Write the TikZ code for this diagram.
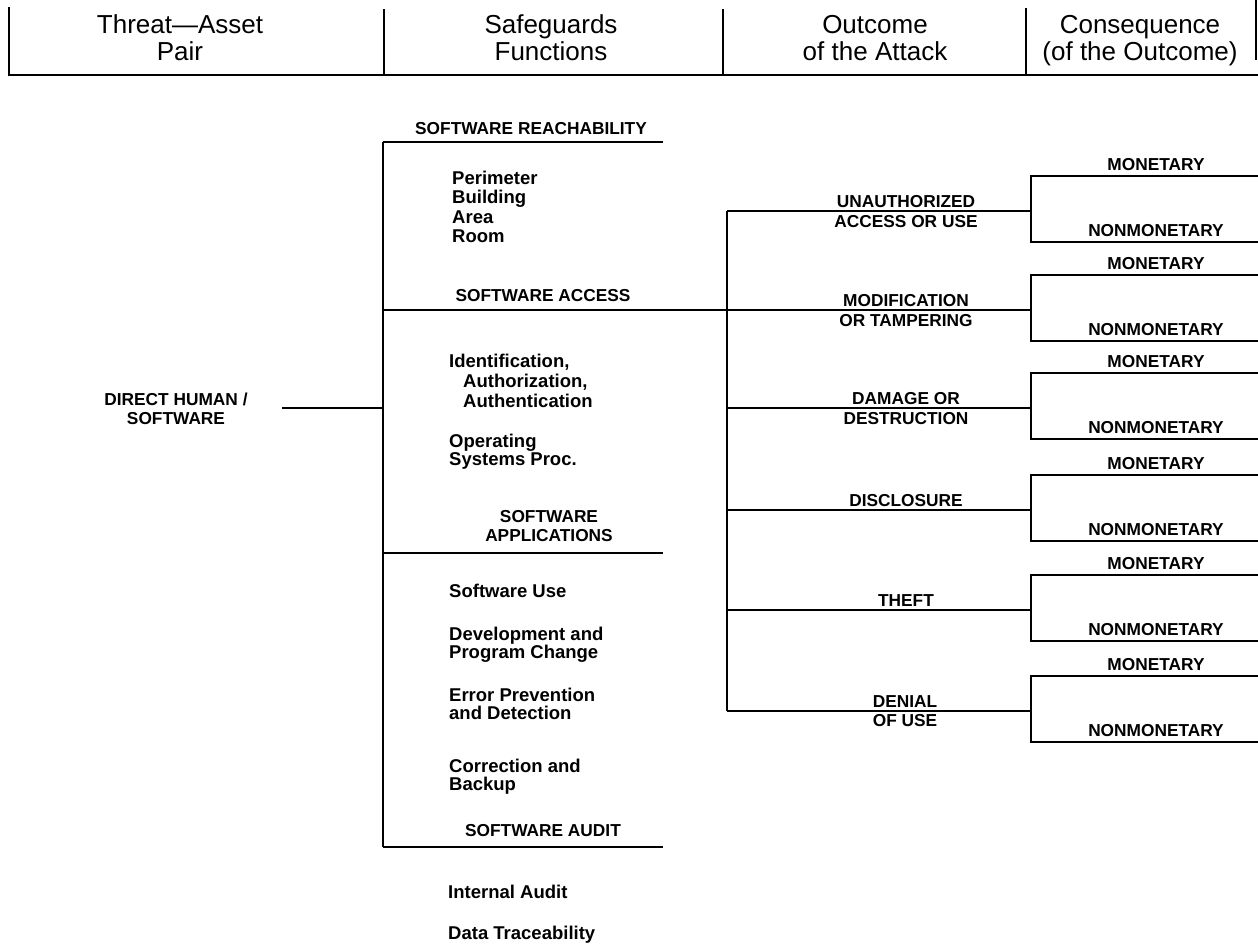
\documentclass[tikz,border=0pt]{standalone}
\usepackage{fontspec}
\setmainfont{Liberation Sans}
\begin{document}
\begin{tikzpicture}[x=1pt,y=-1pt,
  rule/.style={line width=1.5pt},
  hdr/.style={font=\fontsize{26}{27}\selectfont, align=center, inner sep=0pt, anchor=north},
  upper/.style={font=\bfseries\fontsize{17.3}{19.5}\selectfont, align=center, inner sep=0pt, anchor=north},
  lst/.style={font=\bfseries\fontsize{18.5}{#1}\selectfont, align=left, inner sep=0pt, anchor=north west},
  lst/.default=18.5,
]
\useasboundingbox (0,0) rectangle (1258,945);

% ---- column headings ----
\node[hdr] (hThreat)  at (180,14.7)  {Threat\textemdash Asset\\Pair};
\node[hdr] (hSafe)    at (551,14.7)  {Safeguards\\Functions};
\node[hdr] (hOutcome) at (875,14.7)  {Outcome\\of the Attack};
\node[hdr] (hConseq)  at (1140,14.7) {Consequence\\(of the Outcome)};
\draw[rule] (9,7) -- (9,75) -- (1258,75);
\draw[rule] (384,9) -- (384,75);
\draw[rule] (723,9) -- (723,75);
\draw[rule] (1026,8) -- (1026,75);
\draw[rule] (1256,0) -- (1256,60);

% ---- threat-asset pair ----
\node[upper] (pair) at (176,392.5) {DIRECT HUMAN /\\SOFTWARE};
\coordinate (pairEnd) at (282,408);
\coordinate (sgJoin) at (383,408);
\draw[rule] (pairEnd) -- (sgJoin);

% ---- safeguard functions ----
\coordinate (sgTop) at (383,142);
\coordinate (sgAcc) at (383,310);
\coordinate (sgApp) at (383,553);
\coordinate (sgBot) at (383,847);
\draw[rule] (sgTop) -- (sgBot);
\draw[rule] (sgTop) -- (663,142);
\draw[rule] (sgApp) -- (663,553);
\draw[rule] (sgBot) -- (663,847);

\node[upper] (reach) at (531,122.3) {SOFTWARE REACHABILITY};
\node[lst=19.5] (physical) at (452,170.4) {Perimeter\\Building\\Area\\Room};
\node[upper] (access) at (543,289.3) {SOFTWARE ACCESS};
\node[lst=20] (ident) at (449,353.4) {Identification,\\\hspace*{14pt}Authorization,\\\hspace*{14pt}Authentication};
\node[lst] (opsys) at (449,433.4) {Operating\\Systems Proc.};
\node[upper] (apps) at (549,509.8) {SOFTWARE\\APPLICATIONS};
\node[lst] (swuse) at (449,583.4) {Software Use};
\node[lst] (devel) at (449,626.4) {Development and\\Program Change};
\node[lst] (errprev) at (449,687.4) {Error Prevention\\and Detection};
\node[lst] (correct) at (449,758.4) {Correction and\\Backup};
\node[upper] (audit) at (543,823.8) {SOFTWARE AUDIT};
\node[lst] (intaudit) at (448,884.4) {Internal Audit};
\node[lst] (trace) at (448,925.4) {Data Traceability};

% ---- outcomes of the attack ----
\coordinate (ocTop) at (727,211);
\coordinate (ocBot) at (727,711);
\draw[rule] (ocTop) -- (ocBot);
\draw[rule] (sgAcc) -- (727,310);

\node[upper] (oc1) at (906,195.3) {UNAUTHORIZED\\ACCESS OR USE};
\node[upper] (oc2) at (906,294.3) {MODIFICATION\\OR TAMPERING};
\node[upper] (oc3) at (906,392.3) {DAMAGE OR\\DESTRUCTION};
\node[upper] (oc4) at (906,494.3) {DISCLOSURE};
\node[upper] (oc5) at (906,594.3) {THEFT};
\node[upper] (oc6) at (905,695.3) {DENIAL\\OF USE};

% ---- consequences: one bracket per outcome ----
\foreach \m [count=\i] in {211,310,408,510,610,711} {
  \coordinate (cq\i) at (1031,\m);
  \draw[rule] (727,\m) -- (cq\i);
  \draw[rule] (1258,\m-35) -- (1031,\m-35) -- (1031,\m+31) -- (1258,\m+31);
  \node[upper] (mon\i) at (1156,\m-53.2) {MONETARY};
  \node[upper] (non\i) at (1156,\m+12.8) {NONMONETARY};
}
\end{tikzpicture}
\end{document}
